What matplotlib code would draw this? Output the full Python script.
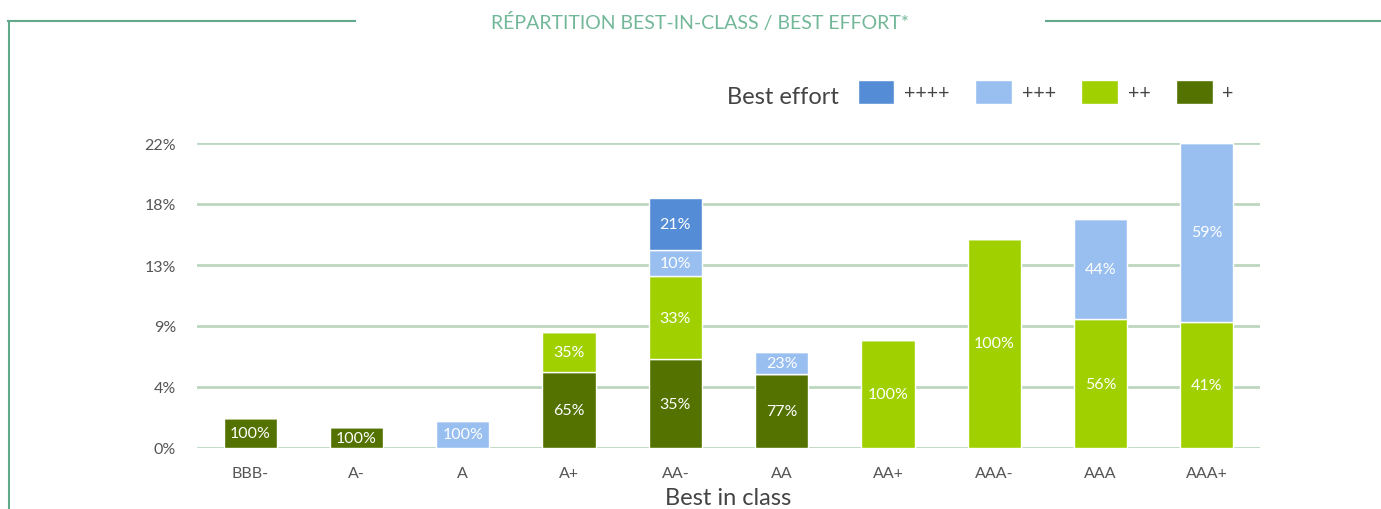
import matplotlib.pyplot as plt
import numpy as np
from matplotlib.patches import Patch
from matplotlib.lines import Line2D

plt.rcParams["font.family"] = ["Lato", "DejaVu Sans"]

# Data (share of portfolio, %)
categories = ["BBB-", "A-", "A", "A+", "AA-", "AA", "AA+", "AAA-", "AAA", "AAA+"]
plus1 = [2.15, 1.5, 0, 5.45, 6.4, 5.35, 0, 0, 0, 0]
plus2 = [0, 0, 0, 2.95, 6.0, 0, 7.8, 15.1, 9.3, 9.1]
plus3 = [0, 0, 1.95, 0, 1.85, 1.6, 0, 0, 7.2, 12.9]
plus4 = [0, 0, 0, 0, 3.8, 0, 0, 0, 0, 0]
series_names = ["+", "++", "+++", "++++"]
yticks = [0, 4.4, 8.8, 13.2, 17.6, 22]

colors = {"+": "#537200", "++": "#a0d000", "+++": "#98bff0", "++++": "#548dd6"}

fig = plt.figure(figsize=(13.81, 5.10), dpi=100)
ax = fig.add_axes([197 / 1381, 1 - 449 / 510, (1260 - 197) / 1381, (449 - 144) / 510])

x = np.arange(len(categories))
series = [plus1, plus2, plus3, plus4]
totals = np.sum(series, axis=0)
bottom = np.zeros(len(categories))
for name, vals in zip(series_names, series):
    vals = np.array(vals, dtype=float)
    ax.bar(x, vals, bottom=bottom, width=0.5, color=colors[name],
           edgecolor="white", linewidth=1, zorder=3)
    for i, v in enumerate(vals):
        if v > 0:
            ax.text(x[i], bottom[i] + v / 2, f"{v / totals[i] * 100:.0f}%",
                    ha="center", va="center", color="white", fontsize=11.5, zorder=4)
    bottom += vals

ax.set_xlim(-0.5, len(categories) - 0.5)
ax.set_ylim(0, 22)
ax.set_yticks(yticks)
ax.set_yticklabels([f"{t:.0f}%" for t in yticks])
ax.set_xticks(x)
ax.set_xticklabels(categories)
ax.tick_params(length=0, labelsize=11.5, labelcolor="#555555")
ax.tick_params(axis="x", pad=13)
ax.tick_params(axis="y", pad=15)
ax.grid(axis="y", color="#bcd6bf", linewidth=2, zorder=0)
for s in ax.spines.values():
    s.set_visible(False)
ax.set_xlabel("Best in class", fontsize=17, color="#444444", labelpad=5)

# Legend
fig.text(727 / 1381, 1 - 97 / 510, "Best effort", fontsize=17, color="#444444",
         ha="left", va="center")
handles = [Patch(facecolor=colors[n], edgecolor="white") for n in ["++++", "+++", "++", "+"]]
ax.legend(handles, ["++++", "+++", "++", "+"], ncol=4, frameon=False,
          loc="center left", bbox_to_anchor=(840 / 1381, 1 - 93 / 510),
          bbox_transform=fig.transFigure, fontsize=14, labelcolor="#444444",
          handlelength=1.9, handleheight=1.6, handletextpad=0.5, columnspacing=1.3)

# Title and frame lines
fig.text(700 / 1381, 1 - 23 / 510, "RÉPARTITION BEST-IN-CLASS / BEST EFFORT*",
         fontsize=14, color="#72b898", ha="center", va="center")
frame_color = "#62a98c"
fig.add_artist(Line2D([8 / 1381, 355 / 1381], [1 - 22 / 510] * 2,
                      transform=fig.transFigure, color=frame_color, linewidth=1.5))
fig.add_artist(Line2D([1046 / 1381, 1.0], [1 - 22 / 510] * 2,
                      transform=fig.transFigure, color=frame_color, linewidth=1.5))
fig.add_artist(Line2D([9 / 1381] * 2, [1 - 22 / 510, 0],
                      transform=fig.transFigure, color=frame_color, linewidth=1.5))

fig.savefig("out.png", dpi=100)
